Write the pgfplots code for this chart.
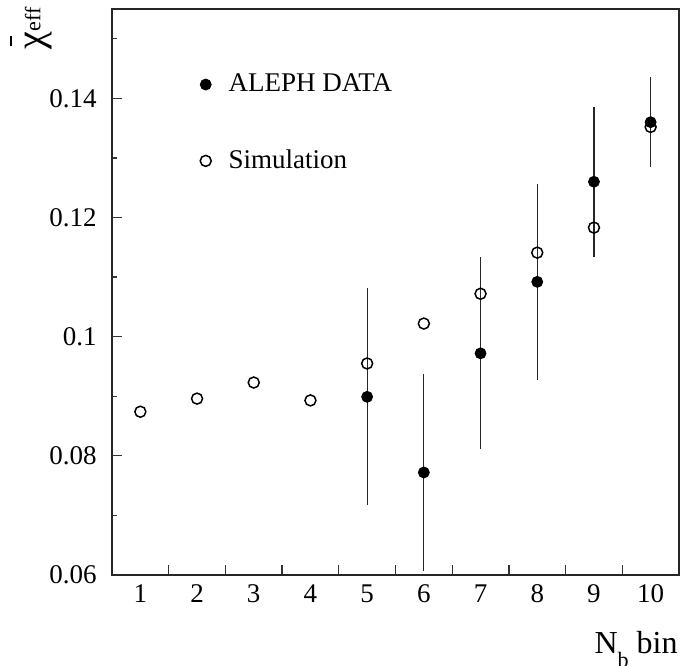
\documentclass[border=0pt]{standalone}
\usepackage{pgfplots}
\pgfplotsset{compat=1.18}
\usepackage{fontspec}
\setmainfont{Liberation Serif}

\begin{document}
\fontsize{13.5}{16}\selectfont
\begin{tikzpicture}
\begin{axis}[
    scale only axis,
    width=283.5pt, height=283pt,
    xmin=0.5, xmax=10.5,
    ymin=0.06, ymax=0.155,
    clip=false,
    axis line style={line width=1pt, black!85},
    tick pos=left, tick align=inside,
    xtick={1.5,2.5,3.5,4.5,5.5,6.5,7.5,8.5,9.5},
    xticklabels={},
    extra x ticks={1,2,3,4,5,6,7,8,9,10},
    extra x tick labels={1,2,3,4,5,6,7,8,9,10},
    extra x tick style={tick style={draw=none}},
    ytick={0.06,0.08,0.1,0.12,0.14},
    yticklabels={0.06,0.08,0.1,0.12,0.14},
    minor ytick={0.07,0.09,0.11,0.13,0.15},
    major tick length=5pt, minor tick length=2.5pt,
    tick style={black!80, line width=0.6pt},
    yticklabel style={xshift=-3pt},
    legend style={draw=none, fill=none, inner sep=0pt,
      at={(axis description cs:0.1549,0.8936)}, anchor=north west,
      row sep=23pt, column sep=6.7pt, cells={anchor=west}},
  ]
  % ALEPH data with statistical errors
  \addplot[only marks, mark=*, mark size=2.75pt, black,
    error bars/.cd, y dir=both, y explicit,
    error bar style={line width=0.6pt, black!85}, error mark=none]
    coordinates {
      (5,0.0899) +- (0,0.0182)
      (6,0.0772) +- (0,0.0165)
      (7,0.0972) +- (0,0.0161)
      (8,0.1092) +- (0,0.0164)
      (9,0.1260) +- (0,0.0126)
      (10,0.1360) +- (0,0.0076)
    };
  \addlegendentry{ALEPH DATA}
  % Monte Carlo
  \addplot[only marks, mark=o, mark size=2.75pt, black,
    mark options={line width=0.75pt}]
    coordinates {
      (1,0.0874) (2,0.0896) (3,0.0923) (4,0.0893) (5,0.0955)
      (6,0.1022) (7,0.1072) (8,0.1141) (9,0.1183) (10,0.1352)
    };
  \addlegendentry{Simulation}
\end{axis}
% axis titles
\node[rotate=90, anchor=south east, inner sep=0pt]
  at ([xshift=-30pt, yshift=1pt]current axis.north west)
  {\fontsize{20}{20}\selectfont\makebox[0pt][l]{\hspace{1.5pt}\rule[15.6pt]{5pt}{0.7pt}}χ\raisebox{1.3pt}{\fontsize{11}{11}\selectfont eff}};
\node[anchor=base east, inner sep=0pt]
  at ([xshift=-0.5pt, yshift=-39.5pt]current axis.south east)
  {\fontsize{16}{18}\selectfont N\raisebox{-7pt}{\fontsize{11}{11}\selectfont b} bin};
\pgfresetboundingbox
\path ([xshift=-56pt, yshift=4.5pt]current axis.north west)
  rectangle ([xshift=0.5pt, yshift=-45.5pt]current axis.south east);
\end{tikzpicture}
\end{document}
